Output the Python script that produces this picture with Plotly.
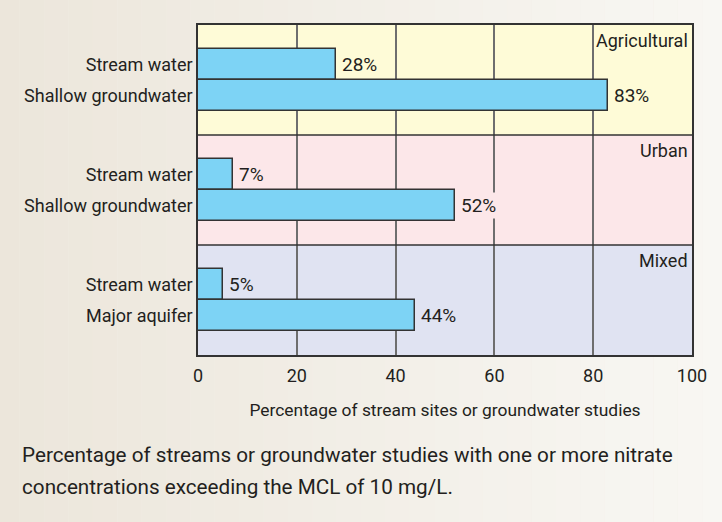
import plotly.graph_objects as go

groups = ['Agricultural', 'Urban', 'Mixed']
labels = ['Stream water', 'Shallow groundwater',
          'Stream water', 'Shallow groundwater',
          'Stream water', 'Major aquifer']
values = [28, 83, 7, 52, 5, 44]
band_colors = ['#FEFBD7', '#FCE7E9', '#E0E3F2']
xticks = [0, 20, 40, 60, 80, 100]
caption = ['Percentage of streams or groundwater studies with one or more nitrate',
           'concentrations exceeding the MCL of 10 mg/L.']

font = 'Roboto, sans-serif'
ink = '#231F20'

band = 3.5          # height of one land-use band in y units
pad = 0.75          # gap above/below the pair of bars
ypos = []
for g in range(len(groups)):
    ypos.append(g * band + pad + 0.5)
    ypos.append(g * band + pad + 1.5)

fig = go.Figure()
fig.add_trace(go.Bar(
    x=values, y=ypos, orientation='h', width=1,
    marker=dict(color='#7DD3F5', line=dict(color='#333333', width=1.5)),
    hoverinfo='skip', showlegend=False,
))

# soft beige page gradient, darker on the left
n = 30
for i in range(n):
    t = i / (n - 1)
    r = round(0xEC + (0xF8 - 0xEC) * t)
    gg = round(0xE6 + (0xF7 - 0xE6) * t)
    b = round(0xDB + (0xF3 - 0xDB) * t)
    fig.add_shape(type='rect', xref='paper', yref='paper',
                  x0=-0.41 + 1.48 * i / n, x1=-0.41 + 1.48 * (i + 1) / n,
                  y0=-0.52, y1=1.08, fillcolor=f'rgb({r},{gg},{b})',
                  line_width=0, layer='below')

# coloured bands + separators + group names
for g, name in enumerate(groups):
    fig.add_shape(type='rect', xref='x domain', yref='y',
                  x0=0, x1=1, y0=g * band, y1=(g + 1) * band,
                  fillcolor=band_colors[g], line_width=0, layer='below')
    if g > 0:
        fig.add_shape(type='line', xref='x domain', yref='y',
                      x0=0, x1=1, y0=g * band, y1=g * band,
                      line=dict(color='#333333', width=1.5))
    fig.add_annotation(x=1, xref='x domain', y=g * band + 0.08, yref='y',
                       text=name, showarrow=False, xanchor='right', yanchor='top',
                       xshift=-2, font=dict(family=font, size=18, color=ink))

# value labels
for i, v in enumerate(values):
    fig.add_annotation(x=v, y=ypos[i], text=f'{v}%', showarrow=False,
                       xanchor='left', xshift=4, borderpad=1,
                       bgcolor=band_colors[i // 2],
                       font=dict(family=font, size=19, color=ink))

for k, line in enumerate(caption):
    fig.add_annotation(x=-0.36, xref='paper', y=-0.303 - 0.097 * k, yref='paper',
                       xanchor='left', yanchor='middle', showarrow=False,
                       text=line, font=dict(family=font, size=20.7, color=ink))

fig.update_layout(
    width=722, height=522,
    margin=dict(l=198, r=30, t=25, b=167),
    paper_bgcolor='#F3EFE8', plot_bgcolor='rgba(0,0,0,0)',
    bargap=0,
    font=dict(family=font, size=18, color=ink),
    xaxis=dict(range=[0, 100], tickvals=xticks, showgrid=True,
               gridcolor='#6E6E6E', gridwidth=1.5, zeroline=False,
               showline=True, linecolor='#333333', linewidth=2, mirror=True,
               ticks='', ticklabelstandoff=3, tickfont=dict(size=18),
               automargin=False,
               title=dict(text='Percentage of stream sites or groundwater studies',
                          font=dict(family=font, size=17.4, color=ink), standoff=19)),
    yaxis=dict(range=[len(groups) * band, 0], tickvals=ypos, ticktext=labels,
               showgrid=False, zeroline=False, showline=True,
               linecolor='#333333', linewidth=1.5, mirror=True, ticks='',
               ticklabelstandoff=0, tickfont=dict(size=18), automargin=False),
)

fig.write_html('out.html', config={'displayModeBar': False},
               post_script="document.body.style.margin='0';")
